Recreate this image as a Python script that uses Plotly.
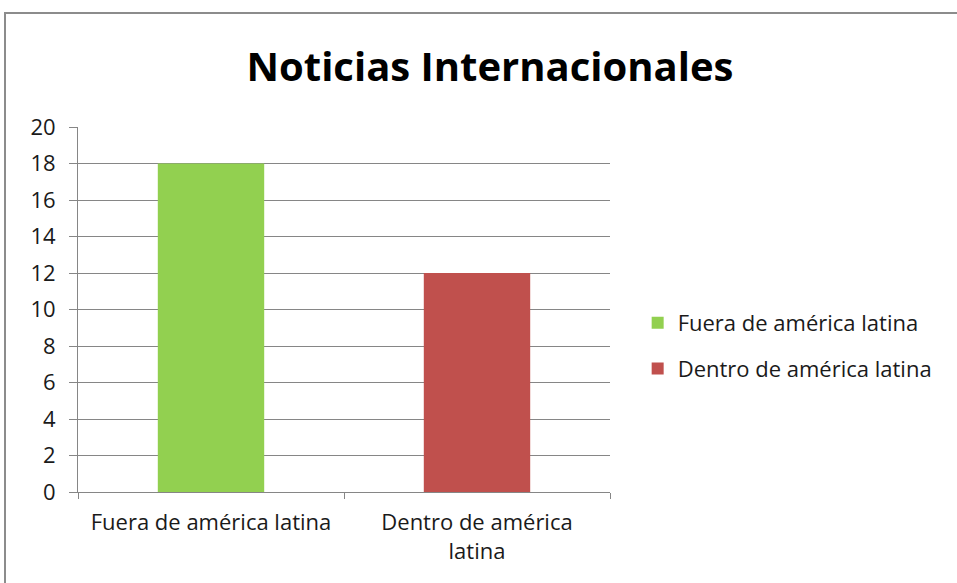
import plotly.graph_objects as go

# datos
categorias = ["Fuera de américa latina", "Dentro de américa latina"]
etiquetas_eje = ["Fuera de américa latina", "Dentro de américa<br>latina"]
valores = [18, 12]
colores = ["#92D050", "#C0504D"]

FUENTE = "'Open Sans', Lato, sans-serif"

fig = go.Figure()
for cat, val, col in zip(categorias, valores, colores):
    fig.add_trace(go.Bar(
        x=[cat], y=[val], name=cat, marker=dict(color=col, line=dict(width=0)),
        width=0.4, legendgroup=cat,
    ))

# marco gris exterior (como el borde del gráfico de Excel)
fig.add_shape(type="rect", xref="paper", yref="paper",
              x0=(5 - 78) / 532, x1=(990 - 78) / 532,
              y0=(492 - 600) / 365, y1=(492 - 13) / 365,
              line=dict(color="#8c8c8c", width=2), fillcolor="rgba(0,0,0,0)", layer="below")

fig.update_layout(
    width=957, height=583,
    margin=dict(l=78, r=347, t=127, b=91),
    paper_bgcolor="white", plot_bgcolor="white",
    barmode="overlay",
    font=dict(family=FUENTE, size=22, color="#1a1a1a"),
    title=dict(text="<b>Noticias Internacionales</b>", x=0.512, xref="container",
               y=1 - 67 / 583, yanchor="middle", xanchor="center",
               font=dict(size=40, family=FUENTE, color="#000000")),
    legend=dict(x=1.052, y=0.40, xanchor="left", yanchor="middle",
                font=dict(size=22, family=FUENTE), traceorder="grouped",
                tracegroupgap=14, itemwidth=30),
    showlegend=True,
)
fig.update_xaxes(
    tickvals=categorias, ticktext=etiquetas_eje, tickson="boundaries",
    ticks="outside", ticklen=6, tickcolor="#868686",
    showline=True, linecolor="#868686", linewidth=1,
    showgrid=False, tickfont=dict(size=22, family=FUENTE),
    ticklabelstandoff=11,
)
fig.update_yaxes(
    range=[0, 20], dtick=2, ticks="outside", ticklen=8, tickcolor="#868686",
    showline=True, linecolor="#868686", linewidth=1,
    showgrid=True, gridcolor="#868686", gridwidth=1,
    zeroline=False, tickfont=dict(size=22, family=FUENTE),
    ticklabelstandoff=9,
)

# sin margen del body para que el gráfico ocupe la ventana completa
fig.write_html("out.html", config={"displayModeBar": False},
               post_script="document.body.style.margin='0';")
